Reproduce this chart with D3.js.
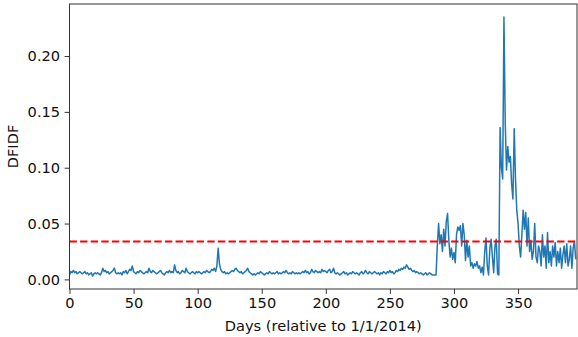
<!DOCTYPE html>
<html>
<head>
<meta charset="utf-8">
<script src="https://cdn.jsdelivr.net/npm/d3@7"></script>
<style>
body { margin: 0; background: #fff; }
svg { display: block; font-family: "DejaVu Sans", sans-serif; }
</style>
</head>
<body>
<svg id="chart" width="578" height="337"></svg>
<script>
// DFIDF per day, days 0..395
var baseline = [
 0.004,0.007,0.006,0.008,0.006,0.007,0.005,0.006,0.007,0.006,0.005,0.006,0.007,0.005,0.006,0.004,0.005,0.006,0.003,0.005,
 0.006,0.005,0.006,0.005,0.004,0.006,0.010,0.007,0.008,0.006,0.007,0.005,0.006,0.007,0.008,0.010,0.006,0.005,0.006,0.005,
 0.006,0.004,0.007,0.006,0.008,0.005,0.007,0.009,0.008,0.012,0.007,0.006,0.005,0.007,0.006,0.008,0.007,0.006,0.005,0.006,
 0.007,0.006,0.010,0.007,0.006,0.008,0.007,0.006,0.005,0.006,0.007,0.008,0.006,0.005,0.004,0.006,0.007,0.006,0.008,0.006,
 0.007,0.006,0.013,0.008,0.006,0.007,0.005,0.006,0.008,0.007,0.006,0.010,0.007,0.006,0.005,0.006,0.007,0.006,0.005,0.007,
 0.006,0.007,0.006,0.005,0.006,0.007,0.006,0.008,0.007,0.006,0.007,0.009,0.008,0.010,0.007,0.012,0.028,0.014,0.009,0.007,
 0.006,0.007,0.005,0.006,0.005,0.006,0.007,0.008,0.007,0.009,0.010,0.008,0.007,0.006,0.007,0.005,0.006,0.007,0.008,0.010,
 0.007,0.006,0.005,0.004,0.005,0.004,0.005,0.006,0.005,0.007,0.006,0.005,0.004,0.005,0.006,0.005,0.007,0.006,0.005,0.006,
 0.005,0.006,0.007,0.005,0.006,0.005,0.006,0.007,0.006,0.008,0.006,0.005,0.006,0.005,0.007,0.006,0.005,0.006,0.005,0.006,
 0.005,0.006,0.007,0.006,0.008,0.006,0.007,0.005,0.006,0.009,0.007,0.006,0.008,0.007,0.006,0.007,0.006,0.009,0.007,0.008,
 0.007,0.006,0.008,0.009,0.006,0.007,0.010,0.006,0.005,0.006,0.005,0.004,0.005,0.006,0.007,0.005,0.006,0.004,0.005,0.006,
 0.005,0.007,0.006,0.005,0.006,0.005,0.004,0.006,0.007,0.005,0.006,0.008,0.006,0.005,0.007,0.006,0.005,0.006,0.007,0.006,
 0.005,0.006,0.004,0.006,0.005,0.007,0.006,0.005,0.007,0.006,0.008,0.006,0.007,0.005,0.006,0.008,0.007,0.009,0.008,0.010,
 0.009,0.011,0.010,0.013,0.011,0.009,0.010,0.008,0.007,0.008,0.006,0.007,0.006,0.005,0.006,0.005,0.004,0.005,0.006,0.004,
 0.005,0.006,0.005,0.004,0.004,0.004,0.004
];
var rise = [
 0.030,0.050,0.032,0.040,0.025,0.045,0.030,0.052,0.059,0.035,0.020,0.028,0.018,0.024,0.015,0.040,0.047,0.044,0.048,0.030,
 0.050,0.040,0.017,0.035,0.020,0.030,0.012,0.015,0.010,0.014,0.012,0.016,0.010,0.012,0.006,0.011,0.004,0.025,0.037,0.012,
 0.004,0.028,0.036,0.020,0.006,0.030,0.036,0.005,0.004
];
var burst = [
 0.136,0.100,0.090,0.235,0.140,0.098,0.119,0.105,0.110,0.085,0.072,0.135,0.090,0.062,0.050,0.030,0.020,0.040,0.062,0.045,
 0.060,0.030,0.055,0.025,0.035,0.018,0.025,0.050,0.020,0.015,0.030,0.025,0.012,0.040,0.020,0.030,0.010,0.042,0.015,0.025,
 0.012,0.030,0.020,0.033,0.012,0.025,0.015,0.028,0.010,0.022,0.030,0.015,0.032,0.012,0.018,0.030,0.010,0.028,0.034,0.018
];
var dfidf = baseline.concat(rise, burst);
var threshold = 0.034;
var yTicks = [0.00, 0.05, 0.10, 0.15, 0.20];
var xTicks = [0, 50, 100, 150, 200, 250, 300, 350];

var svg = d3.select("#chart");
var margin = {left: 69.5, right: 1, top: 4, bottom: 48};
var W = 578, H = 337;
var fontSize = "14.6px";

var x = d3.scaleLinear()
	.domain([0, dfidf.length])
	.range([margin.left, W - margin.right]);

var ext = d3.extent(dfidf);
var pad = (ext[1] - ext[0]) * 0.05;
var y = d3.scaleLinear()
	.domain([ext[0] - pad, ext[1] + pad])
	.range([H - margin.bottom, margin.top]);

svg.append("clipPath").attr("id", "clip")
	.append("rect")
	.attr("x", margin.left).attr("y", margin.top)
	.attr("width", W - margin.right - margin.left)
	.attr("height", H - margin.bottom - margin.top);

var line = d3.line()
	.x(function(d, i) { return x(i); })
	.y(function(d) { return y(d); });

var plot = svg.append("g").attr("clip-path", "url(#clip)");

plot.append("path")
	.datum(dfidf)
	.attr("fill", "none")
	.attr("stroke", "#1f77b4")
	.attr("stroke-width", 1.5)
	.attr("stroke-linejoin", "round")
	.attr("d", line);

plot.append("line")
	.attr("x1", x.range()[0]).attr("x2", x.range()[1])
	.attr("y1", y(threshold)).attr("y2", y(threshold))
	.attr("stroke", "#ff0000")
	.attr("stroke-width", 2)
	.attr("stroke-dasharray", "7.4,3.2");

// axes
var xAxis = svg.append("g")
	.attr("transform", "translate(0," + (H - margin.bottom) + ")")
	.call(d3.axisBottom(x).tickValues(xTicks).tickFormat(d3.format("d")).tickSize(4.9).tickPadding(4));
var yAxis = svg.append("g")
	.attr("transform", "translate(" + margin.left + ",0)")
	.call(d3.axisLeft(y).tickValues(yTicks).tickFormat(d3.format(".2f")).tickSize(4.9).tickPadding(4.5));

[xAxis, yAxis].forEach(function(a) {
	a.select(".domain").remove();
	a.selectAll(".tick line").attr("stroke", "#333").attr("stroke-width", 1);
	a.selectAll(".tick text")
		.attr("fill", "#111")
		.style("font-size", fontSize)
		.style("font-family", "DejaVu Sans");
});

// frame
svg.append("rect")
	.attr("x", margin.left).attr("y", margin.top)
	.attr("width", W - margin.right - margin.left)
	.attr("height", H - margin.bottom - margin.top)
	.attr("fill", "none")
	.attr("stroke", "#333")
	.attr("stroke-width", 1);

svg.append("text")
	.attr("x", (margin.left + W - margin.right) / 2)
	.attr("y", 331)
	.attr("text-anchor", "middle")
	.attr("fill", "#111")
	.style("font-size", fontSize)
	.text("Days (relative to 1/1/2014)");

svg.append("text")
	.attr("transform", "translate(17.5," + ((margin.top + H - margin.bottom) / 2) + ") rotate(-90)")
	.attr("text-anchor", "middle")
	.attr("fill", "#111")
	.style("font-size", fontSize)
	.text("DFIDF");
</script>
</body>
</html>
